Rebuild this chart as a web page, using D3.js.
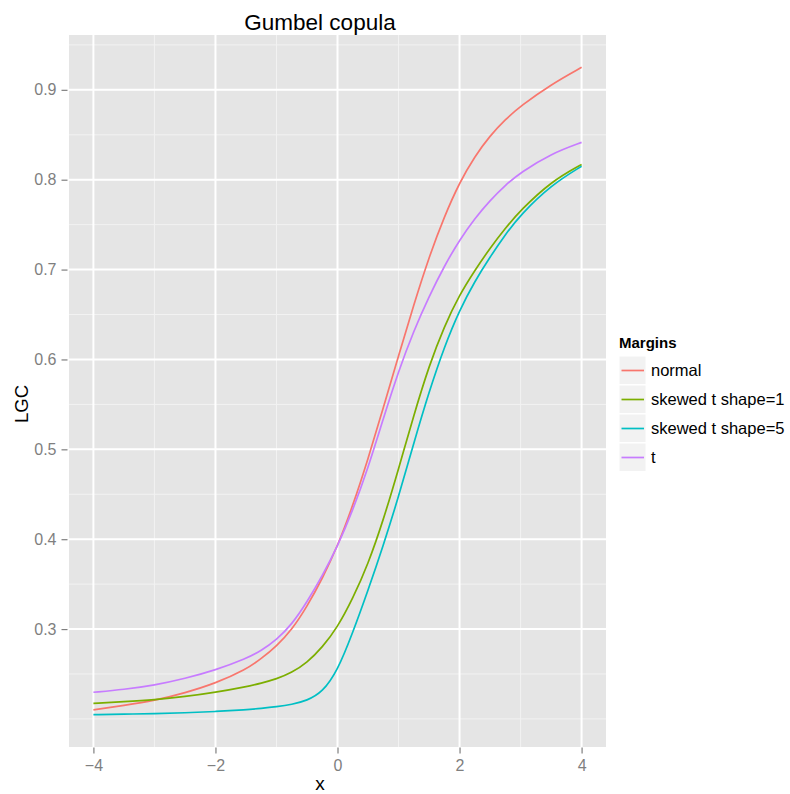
<!DOCTYPE html>
<html>
<head>
    <meta charset="UTF-8">
    <title>Gumbel copula</title>
    <script src="https://cdnjs.cloudflare.com/ajax/libs/d3/7.8.5/d3.min.js"></script>
    <style>
        body { margin: 0; background: #fff; }
        text { font-family: "Liberation Sans", Arial, sans-serif; }
    </style>
</head>
<body>
<svg width="790" height="794" id="chart"></svg>

<script>
    // values
    var xs = [-4, -3.5, -3, -2.5, -2, -1.5, -1.25, -1, -0.75, -0.5, -0.25, 0, 0.25, 0.5, 0.75,
              1, 1.25, 1.5, 1.75, 2, 2.25, 2.5, 2.75, 3, 3.5, 4];
    var normal = [0.210, 0.215, 0.2204, 0.229, 0.2396, 0.255, 0.267, 0.281, 0.299, 0.325, 0.356, 0.392, 0.437,
                  0.489, 0.546, 0.604, 0.661, 0.714, 0.759, 0.797, 0.826, 0.849, 0.867, 0.882, 0.906, 0.925];
    var skewT1 = [0.2174, 0.2192, 0.2213, 0.2248, 0.2296, 0.2358, 0.2398, 0.2444, 0.2515, 0.2625, 0.2795, 0.302, 0.334,
                  0.372, 0.421, 0.478, 0.538, 0.593, 0.637, 0.672, 0.699, 0.724, 0.746, 0.766, 0.798, 0.817];
    var skewT5 = [0.2048, 0.2053, 0.2059, 0.2068, 0.2082, 0.2103, 0.2117, 0.2135, 0.216, 0.2205, 0.2295, 0.2535, 0.296,
                  0.343, 0.393, 0.447, 0.507, 0.564, 0.614, 0.655, 0.687, 0.714, 0.739, 0.761, 0.794, 0.815];
    var tDist = [0.2297, 0.2328, 0.2375, 0.245, 0.2544, 0.267, 0.276, 0.288, 0.305, 0.330, 0.359, 0.392, 0.432,
                 0.479, 0.534, 0.587, 0.632, 0.670, 0.704, 0.733, 0.757, 0.777, 0.794, 0.808, 0.829, 0.8415];

    var seriesNames = ["normal", "skewed t shape=1", "skewed t shape=5", "t"];
    var seriesValues = [normal, skewT1, skewT5, tDist];
    var colors = ["#F8766D", "#7CAE00", "#00BFC4", "#C77CFF"];

    var xBreaks = [-4, -2, 0, 2, 4];
    var xLabels = ["\u22124", "\u22122", "0", "2", "4"];
    var xMinor = [-3, -1, 1, 3];
    var yBreaks = [0.3, 0.4, 0.5, 0.6, 0.7, 0.8, 0.9];
    var yLabels = ["0.3", "0.4", "0.5", "0.6", "0.7", "0.8", "0.9"];
    var yMinor = [0.2, 0.25, 0.35, 0.45, 0.55, 0.65, 0.75, 0.85, 0.95];

    var panel = {left: 69, right: 606, top: 35, bottom: 747};

    // ggplot style 5% expansion
    var xExt = d3.extent(xs),
        yExt = d3.extent(d3.merge(seriesValues)),
        xPad = (xExt[1] - xExt[0]) * 0.05,
        yPad = (yExt[1] - yExt[0]) * 0.05;

    var x = d3.scaleLinear().domain([xExt[0] - xPad, xExt[1] + xPad]).range([panel.left, panel.right]);
    var y = d3.scaleLinear().domain([yExt[0] - yPad, yExt[1] + yPad]).range([panel.bottom, panel.top]);

    var svg = d3.select("#chart");

    svg.append("rect")
        .attr("x", panel.left).attr("y", panel.top)
        .attr("width", panel.right - panel.left).attr("height", panel.bottom - panel.top)
        .attr("fill", "#E5E5E5");

    var grid = svg.append("g");
    grid.selectAll(".vminor").data(xMinor).enter().append("line")
        .attr("x1", function (d) { return x(d); }).attr("x2", function (d) { return x(d); })
        .attr("y1", panel.top).attr("y2", panel.bottom)
        .attr("stroke", "#F2F2F2").attr("stroke-width", 1);
    grid.selectAll(".hminor").data(yMinor.filter(function (d) { return y(d) > panel.top && y(d) < panel.bottom; }))
        .enter().append("line")
        .attr("x1", panel.left).attr("x2", panel.right)
        .attr("y1", function (d) { return y(d); }).attr("y2", function (d) { return y(d); })
        .attr("stroke", "#F2F2F2").attr("stroke-width", 1);
    grid.selectAll(".vmajor").data(xBreaks).enter().append("line")
        .attr("x1", function (d) { return x(d); }).attr("x2", function (d) { return x(d); })
        .attr("y1", panel.top).attr("y2", panel.bottom)
        .attr("stroke", "#fff").attr("stroke-width", 2);
    grid.selectAll(".hmajor").data(yBreaks).enter().append("line")
        .attr("x1", panel.left).attr("x2", panel.right)
        .attr("y1", function (d) { return y(d); }).attr("y2", function (d) { return y(d); })
        .attr("stroke", "#fff").attr("stroke-width", 2);

    // curves
    var line = d3.line()
        .x(function (d, i) { return x(xs[i]); })
        .y(function (d) { return y(d); })
        .curve(d3.curveBasis);

    svg.append("g").selectAll("path").data(seriesValues).enter().append("path")
        .attr("d", line)
        .attr("fill", "none")
        .attr("stroke", function (d, i) { return colors[i]; })
        .attr("stroke-width", 1.7);

    // axes
    var xAxis = d3.axisBottom(x).tickValues(xBreaks)
        .tickFormat(function (d, i) { return xLabels[i]; })
        .tickSize(6).tickPadding(6);
    var gx = svg.append("g").attr("transform", "translate(0," + (panel.bottom + 0.5) + ")").call(xAxis);

    var yAxis = d3.axisLeft(y).tickValues(yBreaks)
        .tickFormat(function (d, i) { return yLabels[i]; })
        .tickSize(6).tickPadding(5);
    var gy = svg.append("g").attr("transform", "translate(" + (panel.left - 1.5) + ",0)").call(yAxis);

    [gx, gy].forEach(function (g) {
        g.select(".domain").remove();
        g.selectAll(".tick line").attr("stroke", "#7F7F7F").attr("stroke-width", 1.2);
        g.selectAll(".tick text").attr("fill", "#7F7F7F").style("font-size", "16px");
    });

    // titles
    svg.append("text").attr("x", 320).attr("y", 30)
        .attr("text-anchor", "middle").style("font-size", "22.5px")
        .text("Gumbel copula");
    svg.append("text").attr("x", 320).attr("y", 790)
        .attr("text-anchor", "middle").style("font-size", "19px")
        .text("x");
    svg.append("text").attr("transform", "translate(28,404) rotate(-90)")
        .attr("text-anchor", "middle").style("font-size", "18.5px")
        .text("LGC");

    // legend
    var legend = svg.append("g").attr("transform", "translate(619,0)");
    legend.append("text").attr("x", 0).attr("y", 348)
        .style("font-size", "15px").style("font-weight", "bold")
        .text("Margins");
    var keys = legend.selectAll(".key").data(seriesNames).enter().append("g")
        .attr("transform", function (d, i) { return "translate(0," + (356 + i * 29) + ")"; });
    keys.append("rect")
        .attr("width", 27).attr("height", 28.5)
        .attr("fill", "#F2F2F2").attr("stroke", "#fff").attr("stroke-width", 1);
    keys.append("line")
        .attr("x1", 2.5).attr("x2", 25)
        .attr("y1", 14.5).attr("y2", 14.5)
        .attr("stroke", function (d, i) { return colors[i]; })
        .attr("stroke-width", 1.7);
    keys.append("text")
        .attr("x", 32).attr("y", 14.5).attr("dy", "0.36em")
        .style("font-size", "16.5px")
        .text(function (d) { return d; });
</script>
</body>
</html>
